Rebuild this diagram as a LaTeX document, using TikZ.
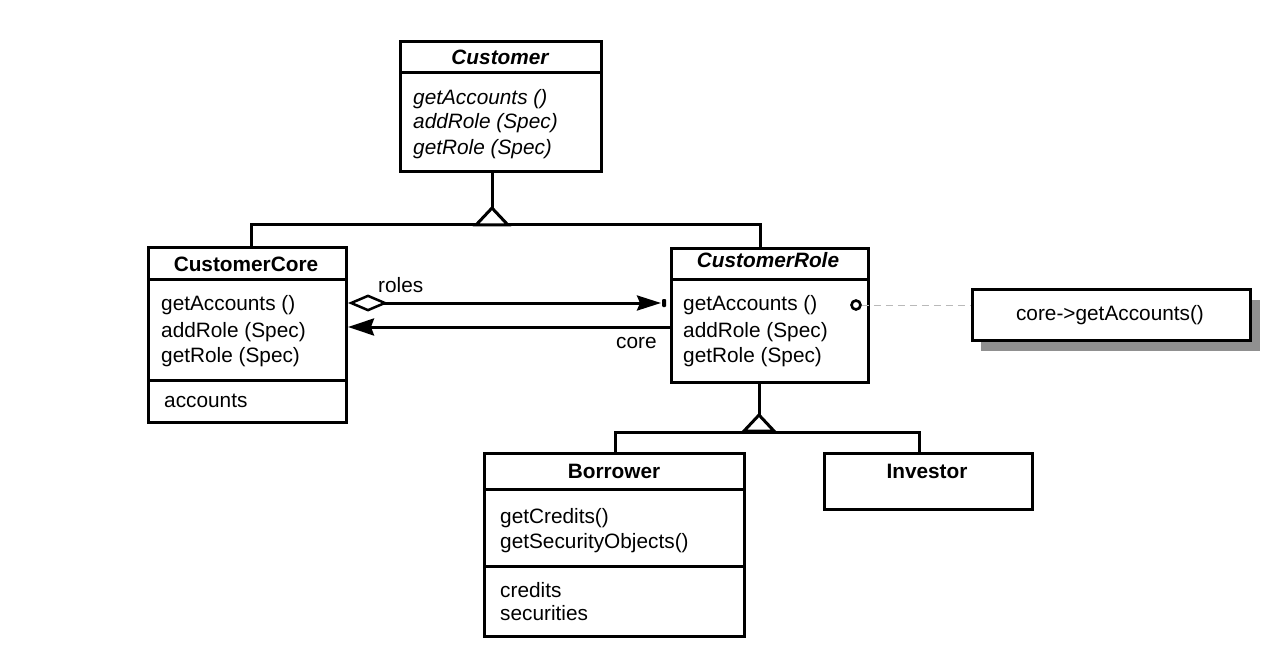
\documentclass[tikz,border=0pt]{standalone}
\usepackage{fontspec}
\setmainfont{Liberation Sans}
\usetikzlibrary{arrows.meta,calc}
\definecolor{shadowgray}{HTML}{909090}
\begin{document}
\begin{tikzpicture}[x=1pt,y=-1pt,
 box/.style={draw, line width=3pt, fill=white, inner sep=0pt, anchor=north west},
 txt/.style={inner sep=0pt, anchor=base west, font=\fontsize{20.8}{25}\selectfont},
 ttl/.style={inner sep=0pt, anchor=base, font=\fontsize{20.8}{25}\selectfont\bfseries},
 ln/.style={line width=3pt},
 divider/.style={line width=3pt},
 gentri/.style={line width=3pt, fill=white, line join=miter},
]
\useasboundingbox (0,0) rectangle (1288,655);

% ---------- boxes ----------
\node[box, minimum width=201pt, minimum height=130pt] (cust) at (399,40) {};
\node[box, minimum width=198pt, minimum height=175pt] (cc) at (147,246) {};
\node[box, minimum width=197pt, minimum height=134pt] (cr) at (670,247) {};
\node[box, minimum width=260pt, minimum height=183pt] (bor) at (483,452) {};
\node[box, minimum width=208pt, minimum height=56pt] (inv) at (823,452) {};
\fill[shadowgray] (981,300) rectangle (1260,351);
\node[box, minimum width=278pt, minimum height=51pt] (note) at (971,288) {};

% ---------- dividers ----------
\draw[divider] (399,73) -- (600,73);
\draw[divider] (147,279) -- (345,279);
\draw[divider] (147,380) -- (345,380);
\draw[divider] (670,279) -- (867,279);
\draw[divider] (483,489) -- (743,489);
\draw[divider] (483,566) -- (743,566);

% ---------- texts ----------
\node[ttl, font=\fontsize{20.8}{25}\selectfont\bfseries\itshape] (custT) at (500,65) {Customer};
\node[txt, font=\fontsize{20.8}{25}\selectfont\itshape] (custM1) at (413,105) {getAccounts ()};
\node[txt, font=\fontsize{20.8}{25}\selectfont\itshape] (custM2) at (413,129) {addRole (Spec)};
\node[txt, font=\fontsize{20.8}{25}\selectfont\itshape] (custM3) at (413,155) {getRole (Spec)};

\node[ttl] (ccT) at (246,272) {CustomerCore};
\node[txt] (ccM1) at (161,310) {getAccounts ()};
\node[txt] (ccM2) at (161,337) {addRole (Spec)};
\node[txt] (ccM3) at (161,362) {getRole (Spec)};
\node[txt] (ccA1) at (164,407) {accounts};

\node[ttl, font=\fontsize{20.8}{25}\selectfont\bfseries\itshape] (crT) at (768,268) {CustomerRole};
\node[txt] (crM1) at (683,310) {getAccounts ()};
\node[txt] (crM2) at (683,337) {addRole (Spec)};
\node[txt] (crM3) at (683,362) {getRole (Spec)};

\node[ttl] (borT) at (614,478) {Borrower};
\node[txt] (borM1) at (500,523) {getCredits()};
\node[txt] (borM2) at (500,548) {getSecurityObjects()};
\node[txt] (borA1) at (500,597) {credits};
\node[txt] (borA2) at (500,620) {securities};

\node[ttl] (invT) at (927,478) {Investor};

\node[txt, anchor=base] (noteT) at (1110,320) {core->getAccounts()};

% ---------- generalization: Customer ----------
\coordinate (t1) at (492,225);
\coordinate (a1) at (492,208);
\draw[ln] ([xshift=4pt]cc.north) |- (t1) -| ([xshift=-9.5pt]cr.north);
\draw[ln] (a1 |- cust.south) -- (a1);
\draw[gentri] (a1) -- (508,225) -- (476,225) -- cycle;

% ---------- generalization: CustomerRole ----------
\coordinate (t2) at (759,432);
\coordinate (a2) at (759,415);
\draw[ln] ([xshift=1pt]bor.north) |- (t2) -| ([xshift=-9pt]inv.north);
\draw[ln] (a2 |- cr.south) -- (a2);
\draw[gentri] (a2) -- (774,431) -- (744,431) -- cycle;

% ---------- associations ----------
\draw[ln, {Diamond[open,length=40pt,width=17pt,line width=2.5pt]}-{Stealth[length=24pt,width=15pt,inset=3pt]}]
  ([yshift=-57pt]cc.north east) -- ([yshift=-56pt,xshift=-9pt]cr.north west);
\fill[rounded corners=1pt] (662,299) rectangle (666,307);
\node[txt] (rolesL) at (378,292) {roles};

\draw[ln, -{Stealth[length=26pt,width=17pt,inset=3pt]}]
  ([yshift=-80pt]cr.north west) -- ([yshift=-81pt]cc.north east);
\node[txt] (coreL) at (616,348) {core};

% ---------- note link ----------
\node[circle, draw, line width=2.6pt, fill=white, minimum size=9pt, inner sep=0pt] (dot) at (856,305) {};
\draw[gray!55, line width=0.8pt, dash pattern=on 7pt off 5pt] (dot.east) -- (dot.east -| note.west);
\end{tikzpicture}
\end{document}
